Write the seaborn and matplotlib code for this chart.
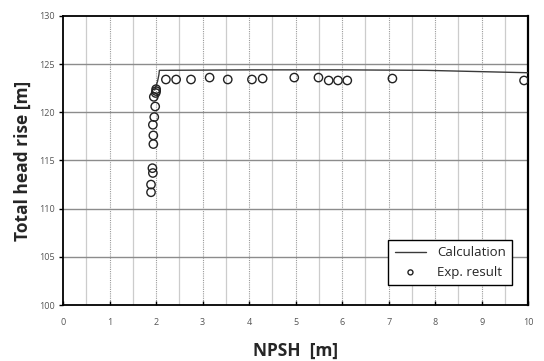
import matplotlib
matplotlib.use("Agg")
import matplotlib.pyplot as plt
import seaborn as sns
import numpy as np
import pandas as pd

# Calculated head curve
calc_npsh = [1.97, 2.03, 2.06, 2.07, 4.0, 6.0, 7.8, 10.0]
calc_head = [122.3, 123.2, 123.9, 124.35, 124.4, 124.4, 124.35, 124.1]

# Measured points
exp_npsh = [1.89, 1.89, 1.93, 1.92, 1.94, 1.94, 1.93, 1.96, 1.98, 1.95, 1.99, 2.0, 2.0,
            2.21, 2.43, 2.75, 3.15, 3.54, 4.06, 4.29, 4.97, 5.49, 5.71, 5.91, 6.11, 7.08, 9.91]
exp_head = [111.7, 112.5, 113.7, 114.2, 116.7, 117.6, 118.7, 119.5, 120.6, 121.6, 122.0, 122.2, 122.4,
            123.4, 123.4, 123.4, 123.6, 123.4, 123.4, 123.5, 123.6, 123.6, 123.3, 123.3, 123.3, 123.5, 123.3]

x_ticks = list(range(0, 11))
y_ticks = list(range(100, 131, 5))

sns.set_theme(style="white")
plt.rcParams["font.family"] = ["Open Sans", "DejaVu Sans"]

fig = plt.figure(figsize=(5.44, 3.61), dpi=100)
ax = fig.add_axes([0.116, 0.155, 0.855, 0.801])

# grid: solid light lines at half-units, dotted at whole units, solid horizontals every 5 m
for xv in np.arange(0.5, 10, 1.0):
    ax.axvline(xv, color="#cccccc", lw=0.9, zorder=0)
for xv in range(1, 10):
    ax.axvline(xv, color="#9a9a9a", lw=0.8, ls=(0, (1, 1)), zorder=0)
for yv in range(105, 130, 5):
    ax.axhline(yv, color="#8c8c8c", lw=1.0, zorder=0)

calc_df = pd.DataFrame({"npsh": calc_npsh, "head": calc_head})
exp_df = pd.DataFrame({"npsh": exp_npsh, "head": exp_head})

sns.lineplot(data=calc_df, x="npsh", y="head", ax=ax, color="#3a3a3a", lw=1.0,
             sort=False, label="Calculation", zorder=3)
sns.scatterplot(data=exp_df, x="npsh", y="head", ax=ax, marker="o", s=36,
                facecolor="none", edgecolor="#222222", linewidth=1.0,
                label="Exp. result", zorder=4)

ax.set_xlim(0, 10)
ax.set_ylim(100, 130)
ax.set_xticks(x_ticks)
ax.set_yticks(y_ticks)
ax.set_xticks(np.arange(0.5, 10, 1.0), minor=True)
ax.tick_params(axis="x", which="both", direction="in", length=3, width=1, color="black",
               labelsize=6.5, labelcolor="#555555", pad=9)
ax.tick_params(axis="y", which="major", direction="out", length=3, width=1, color="black",
               labelsize=6.5, labelcolor="#555555", pad=3, left=True)
ax.tick_params(axis="x", bottom=True)

for side in ["left", "right", "top", "bottom"]:
    ax.spines[side].set_color("black")
    ax.spines[side].set_linewidth(1.3)
ax.spines["right"].set_linewidth(1.6)

ax.set_xlabel("NPSH  [m]", fontsize=12.5, fontweight="bold", labelpad=11)
ax.set_ylabel("Total head rise [m]", fontsize=12.5, fontweight="bold", labelpad=5)

leg = ax.legend(loc="lower right", bbox_to_anchor=(0.98, 0.045), fontsize=9.5,
                frameon=True, fancybox=False, edgecolor="black", framealpha=1,
                handlelength=2.4, handletextpad=0.8, borderpad=0.5, markerscale=0.6)
leg.get_frame().set_linewidth(1.0)

fig.savefig("out.png", dpi=100)
